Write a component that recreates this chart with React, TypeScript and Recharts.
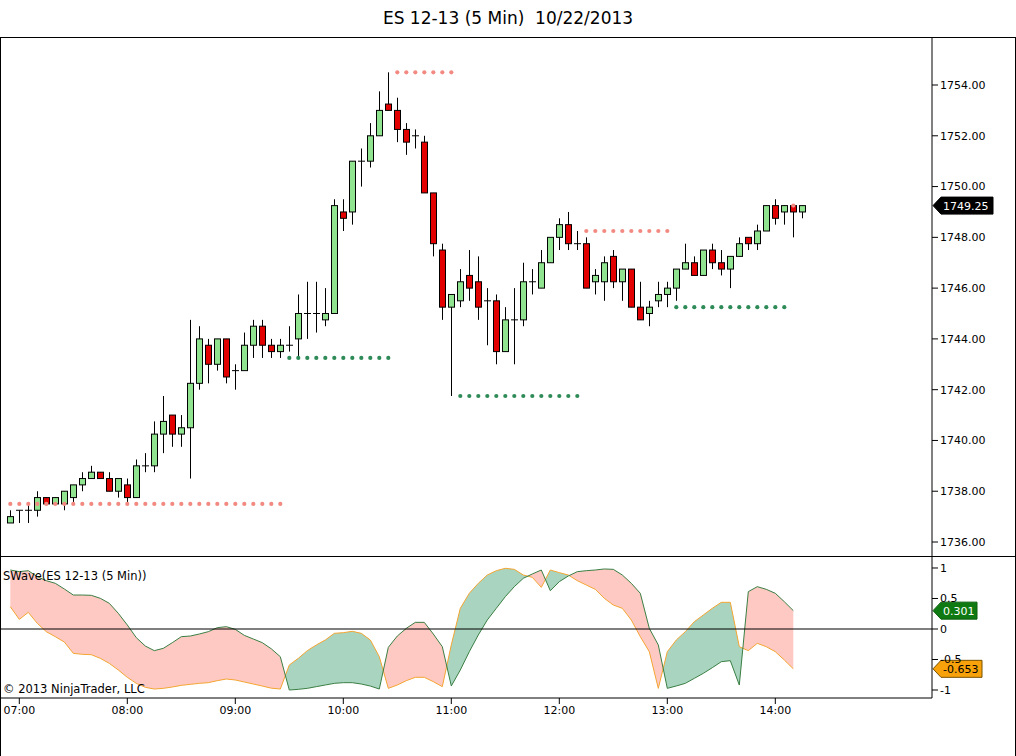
import React from 'react'
import { ComposedChart, Bar, Line, Area, XAxis, YAxis, ReferenceLine } from 'recharts'

// 5 minute bars, first bar closes 06:55
const START_MINUTE = 6 * 60 + 55
const opens = [
  1736.75, 1737.25, 1737.25, 1737.25, 1737.75, 1737.5, 1737.5, 1737.75, 1738.25, 1738.5,
  1738.75, 1738.5, 1738.0, 1738.25, 1737.75, 1739.0, 1739.0, 1740.25, 1741.0, 1740.25,
  1740.5, 1742.25, 1743.75, 1743.0, 1744.0, 1742.75, 1742.75, 1743.75, 1744.5, 1743.75,
  1743.5, 1743.75, 1744.0, 1745.0, 1745.0, 1744.75, 1745.0, 1749.0, 1749.0, 1751.0,
  1751.0, 1752.0, 1753.25, 1753.0, 1752.25, 1752.0, 1751.75, 1749.75, 1747.5, 1745.25,
  1745.5, 1746.5, 1746.25, 1745.5, 1745.5, 1743.5, 1744.75, 1744.75, 1746.25, 1746.0,
  1747.0, 1748.0, 1748.5, 1747.75, 1747.75, 1746.25, 1746.25, 1747.25, 1746.25, 1746.75,
  1745.25, 1745.0, 1745.5, 1745.75, 1746.0, 1746.75, 1747.0, 1746.5, 1747.5, 1747.0,
  1746.75, 1747.25, 1748.0, 1747.75, 1748.25, 1749.25, 1749.0, 1749.25, 1749.0,
]
const highs = [
  1737.25, 1737.25, 1737.5, 1738.0, 1737.75, 1737.75, 1738.0, 1738.25, 1738.75, 1739.0,
  1738.75, 1738.75, 1738.5, 1738.5, 1739.25, 1739.5, 1740.75, 1741.75, 1741.0, 1741.0,
  1744.75, 1744.5, 1744.0, 1744.0, 1744.0, 1743.0, 1744.25, 1744.75, 1744.75, 1744.0,
  1744.0, 1744.5, 1745.75, 1746.25, 1746.25, 1746.0, 1749.5, 1749.5, 1751.0, 1751.5,
  1752.5, 1753.75, 1754.5, 1753.5, 1752.5, 1752.25, 1752.0, 1749.75, 1747.75, 1745.75,
  1746.75, 1747.5, 1747.25, 1746.0, 1745.75, 1745.25, 1746.0, 1747.0, 1746.75, 1747.5,
  1748.0, 1748.75, 1749.0, 1748.25, 1748.0, 1746.75, 1747.25, 1747.5, 1746.75, 1746.75,
  1746.25, 1745.5, 1746.25, 1746.25, 1746.75, 1747.75, 1747.25, 1747.5, 1747.75, 1747.5,
  1747.25, 1748.0, 1748.0, 1748.5, 1749.25, 1749.5, 1749.25, 1749.25, 1749.25,
]
const lows = [
  1736.75, 1736.75, 1736.75, 1737.0, 1737.5, 1737.5, 1737.25, 1737.5, 1738.0, 1738.5,
  1738.5, 1738.0, 1737.75, 1737.5, 1737.75, 1738.75, 1738.75, 1739.5, 1739.75, 1739.75,
  1738.5, 1742.0, 1742.25, 1742.75, 1742.25, 1742.0, 1742.75, 1743.25, 1743.25, 1743.25,
  1743.25, 1743.5, 1743.25, 1744.0, 1744.25, 1744.5, 1745.0, 1748.25, 1748.5, 1750.0,
  1750.75, 1752.0, 1753.0, 1751.75, 1751.25, 1751.5, 1749.75, 1747.25, 1744.75, 1741.75,
  1745.25, 1745.5, 1744.75, 1743.75, 1743.0, 1743.5, 1743.0, 1744.5, 1745.75, 1746.0,
  1747.0, 1747.5, 1747.5, 1747.5, 1746.0, 1745.75, 1745.5, 1746.0, 1745.5, 1745.25,
  1744.75, 1744.5, 1745.25, 1745.25, 1745.5, 1746.75, 1746.5, 1746.5, 1746.75, 1746.5,
  1746.0, 1747.25, 1747.5, 1747.5, 1748.25, 1748.5, 1748.5, 1748.0, 1748.75,
]
const closes = [
  1737.0, 1737.25, 1737.25, 1737.75, 1737.5, 1737.75, 1738.0, 1738.25, 1738.5, 1738.75,
  1738.5, 1738.0, 1738.5, 1737.75, 1739.0, 1739.0, 1740.25, 1740.75, 1740.25, 1740.5,
  1742.25, 1744.0, 1743.0, 1744.0, 1742.5, 1742.75, 1743.75, 1744.5, 1743.75, 1743.5,
  1743.75, 1743.75, 1745.0, 1745.0, 1745.0, 1745.0, 1749.25, 1748.75, 1751.0, 1751.0,
  1752.0, 1753.0, 1753.0, 1752.25, 1751.75, 1752.0, 1749.75, 1747.75, 1745.25, 1745.75,
  1746.25, 1746.0, 1745.25, 1745.5, 1743.5, 1744.75, 1744.75, 1746.25, 1746.25, 1747.0,
  1748.0, 1748.5, 1747.75, 1747.75, 1746.0, 1746.5, 1747.0, 1746.25, 1746.75, 1745.25,
  1744.75, 1745.25, 1745.75, 1746.0, 1746.75, 1747.0, 1746.5, 1747.5, 1747.0, 1746.75,
  1747.25, 1747.75, 1747.75, 1748.25, 1749.25, 1748.75, 1749.25, 1749.0, 1749.25,
]

// swing levels drawn as dotted runs (bar index ranges)
const resistanceLevels = [
  { from: 0, to: 30, price: 1737.5 },
  { from: 43, to: 49, price: 1754.5 },
  { from: 64, to: 73, price: 1748.25 },
  { from: 87, to: 87, price: 1749.25 },
]
const supportLevels = [
  { from: 31, to: 42, price: 1743.25 },
  { from: 50, to: 63, price: 1741.75 },
  { from: 74, to: 86, price: 1745.25 },
]

// SWave indicator (last bar not plotted)
const waveGreen = [
  0.967, 0.94, 0.956, 0.858, 0.792, 0.749, 0.656, 0.557, 0.557, 0.552,
  0.503, 0.421, 0.257, 0.066, -0.142, -0.279, -0.355, -0.317, -0.224, -0.126,
  -0.115, -0.082, -0.044, 0.022, 0.038, -0.006, -0.104, -0.164, -0.224, -0.325,
  -0.454, -1.0, -0.989, -0.973, -0.945, -0.918, -0.891, -0.88, -0.88, -0.902,
  -0.935, -0.984, -0.301, -0.115, 0.011, 0.109, 0.109, -0.082, -0.29, -0.934,
  -0.672, -0.372, -0.098, 0.148, 0.339, 0.53, 0.694, 0.831, 0.902, 0.967,
  0.628, 0.776, 0.869, 0.94, 0.956, 0.967, 0.984, 0.978, 0.885, 0.749,
  0.585, 0.011, -0.262, -0.973, -0.934, -0.891, -0.809, -0.727, -0.634, -0.536,
  -0.519, -0.918, 0.612, 0.694, 0.65, 0.585, 0.448, 0.301, null,
]
const waveOrange = [
  0.366, 0.158, 0.273, 0.093, -0.044, -0.126, -0.213, -0.399, -0.415, -0.421,
  -0.481, -0.563, -0.672, -0.792, -0.891, -0.956, -0.984, -0.973, -0.951, -0.924,
  -0.907, -0.891, -0.88, -0.847, -0.82, -0.836, -0.869, -0.902, -0.935, -0.97,
  -0.984, -0.59, -0.481, -0.355, -0.262, -0.18, -0.071, -0.06, -0.038, -0.071,
  -0.18, -0.454, -0.973, -0.918, -0.847, -0.792, -0.792, -0.863, -0.945, -0.26,
  0.339, 0.585, 0.749, 0.885, 0.956, 0.995, 0.978, 0.885, 0.847, 0.683,
  0.967, 0.924, 0.885, 0.792, 0.721, 0.65, 0.503, 0.393, 0.339, 0.148,
  -0.126, -0.372, -0.973, -0.372, -0.18, -0.044, 0.12, 0.229, 0.339, 0.437,
  0.437, -0.29, -0.355, -0.235, -0.29, -0.372, -0.508, -0.653, null,
]

const priceTicks = [1736, 1738, 1740, 1742, 1744, 1746, 1748, 1750, 1752, 1754]
const waveTicks = [-1, -0.5, 0, 0.5, 1]

const FONT = '"DejaVu Sans", Verdana, sans-serif'
const UP = '#90e490'
const DOWN = '#e20000'
const PINK = '#fec9c3'
const TEAL = '#a9d4bf'

const times = opens.map((_, i) => {
  const m = START_MINUTE + i * 5
  return `${String(Math.floor(m / 60)).padStart(2, '0')}:${String(m % 60).padStart(2, '0')}`
})
const hourTicks = times.map((t, i) => (t.endsWith(':00') ? i : -1)).filter((i) => i >= 0)

function levelAt(levels: { from: number; to: number; price: number }[], i: number) {
  const l = levels.find((lv) => i >= lv.from && i <= lv.to)
  return l ? l.price : null
}

const mainData = opens.map((o, i) => ({
  i,
  open: o,
  high: highs[i],
  low: lows[i],
  close: closes[i],
  range: [lows[i], highs[i]],
  res: levelAt(resistanceLevels, i),
  sup: levelAt(supportLevels, i),
}))

const waveData = waveGreen.map((g, i) => ({
  i,
  green: g,
  orange: waveOrange[i],
  band: g == null || waveOrange[i] == null ? null : [waveOrange[i], g],
}))

// where the two wave lines cross -> colour of the band between them
const lastWave = waveGreen.filter((v) => v != null).length - 1
const bandStops: { offset: number; color: string }[] = []
{
  const d = (i: number) => (waveGreen[i] as number) - (waveOrange[i] as number)
  let start = 0
  for (let i = 0; i < lastWave; i++) {
    if (d(i) > 0 !== d(i + 1) > 0) {
      const c = i + d(i) / (d(i) - d(i + 1))
      const color = d(i) > 0 ? PINK : TEAL
      bandStops.push({ offset: start / lastWave, color }, { offset: c / lastWave, color })
      start = c
    }
  }
  const color = d(lastWave) > 0 ? PINK : TEAL
  bandStops.push({ offset: start / lastWave, color }, { offset: 1, color })
}

// layout (page pixels)
const W = 1016
const H = 756
const FRAME_TOP = 37
const SPLIT = 556
const AXIS_W = 84
const X_DOMAIN: [number, number] = [-1.033, 102.41]
const PRICE_DOMAIN: [number, number] = [1735.449, 1755.891]
const WAVE_DOMAIN: [number, number] = [-1.1311, 1.1967]

function Candle(props: any) {
  const { x, y, width, height, payload } = props
  if (x == null || y == null || !payload) return null
  const top = Math.min(y, y + height)
  const h = Math.abs(height)
  const span = payload.high - payload.low
  const k = span > 0 ? h / span : 0
  const py = (p: number) => top + (payload.high - p) * k
  const cx = Math.round(x + width / 2) + 0.5
  const yo = py(payload.open)
  const yc = py(payload.close)
  const bodyTop = Math.min(yo, yc)
  const bodyH = Math.abs(yo - yc)
  return (
    <g>
      <line x1={cx} x2={cx} y1={top} y2={top + h} stroke="#000" strokeWidth={1} />
      {bodyH < 0.5 ? (
        <line x1={cx - 3.5} x2={cx + 3.5} y1={yo} y2={yo} stroke="#000" strokeWidth={1} />
      ) : (
        <rect
          x={cx - 3}
          y={bodyTop}
          width={6}
          height={bodyH}
          fill={payload.close > payload.open ? UP : DOWN}
          stroke="#000"
          strokeWidth={1}
        />
      )}
    </g>
  )
}

function tag(text: string, bg: string, fg: string, border: string, w: number) {
  return (props: any) => {
    const vb = props.viewBox
    if (!vb) return null
    const x0 = vb.x + vb.width + 1
    const y = vb.y
    return (
      <g>
        <polygon
          points={`${x0},${y} ${x0 + 8},${y - 8.5} ${x0 + w},${y - 8.5} ${x0 + w},${y + 8.5} ${x0 + 8},${y + 8.5}`}
          fill={bg}
          stroke={border}
          strokeWidth={1}
        />
        <text x={x0 + 10} y={y} dy="0.36em" fill={fg} fontSize={11} fontFamily={FONT}>
          {text}
        </text>
      </g>
    )
  }
}

const axisTick = { fill: '#000', fontSize: 11, fontFamily: FONT }

export default function App() {
  const lastClose = closes[closes.length - 1]
  const lastGreen = waveGreen[lastWave] as number
  const lastOrange = waveOrange[lastWave] as number
  return (
    <div style={{ position: 'relative', width: W, height: H, background: '#fff', fontFamily: FONT, overflow: 'hidden' }}>
      <style>{'body{margin:0}'}</style>
      <div
        style={{
          position: 'absolute',
          top: 0,
          left: 0,
          width: W,
          height: FRAME_TOP,
          lineHeight: `${FRAME_TOP}px`,
          textAlign: 'center',
          fontSize: 17,
          whiteSpace: 'pre',
        }}
      >
        {'ES 12-13 (5 Min)  10/22/2013'}
      </div>
      <div
        style={{
          position: 'absolute',
          top: FRAME_TOP,
          left: 0,
          width: W,
          height: H - FRAME_TOP + 2,
          boxSizing: 'border-box',
          borderTop: '1px solid #000',
          borderLeft: '1px solid #000',
          borderRight: '1px solid #000',
        }}
      />
      <div style={{ position: 'absolute', top: SPLIT, left: 0, width: W, height: 1, background: '#000' }} />

      <div style={{ position: 'absolute', top: FRAME_TOP, left: 0 }}>
        <ComposedChart width={W} height={SPLIT - FRAME_TOP} data={mainData} margin={{ top: 0, right: 0, bottom: 0, left: 1 }}>
          <XAxis dataKey="i" type="number" domain={X_DOMAIN} allowDataOverflow hide />
          <YAxis
            orientation="right"
            width={AXIS_W}
            domain={PRICE_DOMAIN}
            allowDataOverflow
            ticks={priceTicks}
            interval={0}
            tickFormatter={(v: number) => v.toFixed(2)}
            axisLine={{ stroke: '#000' }}
            tickLine={{ stroke: '#000' }}
            tickSize={6}
            tick={axisTick}
          />
          <Bar dataKey="range" barSize={7} shape={Candle} isAnimationActive={false} />
          <Line dataKey="res" stroke="none" dot={{ r: 2.1, fill: '#f28a82', stroke: 'none' }} activeDot={false} isAnimationActive={false} />
          <Line dataKey="sup" stroke="none" dot={{ r: 2.1, fill: '#2e8b57', stroke: 'none' }} activeDot={false} isAnimationActive={false} />
          <ReferenceLine y={lastClose} stroke="none" label={tag(lastClose.toFixed(2), '#000', '#fff', '#000', 60)} />
        </ComposedChart>
      </div>

      <div style={{ position: 'absolute', top: SPLIT, left: 0 }}>
        <ComposedChart width={W} height={H - SPLIT} data={waveData} margin={{ top: 0, right: 0, bottom: 0, left: 1 }}>
          <defs>
            <linearGradient id="swaveBand" x1="0" y1="0" x2="1" y2="0">
              {bandStops.map((s, k) => (
                <stop key={k} offset={s.offset} stopColor={s.color} />
              ))}
            </linearGradient>
          </defs>
          <XAxis
            dataKey="i"
            type="number"
            domain={X_DOMAIN}
            allowDataOverflow
            ticks={hourTicks}
            interval={0}
            tickFormatter={(i: number) => times[i]}
            height={H - 698}
            axisLine={{ stroke: '#000' }}
            tickLine={{ stroke: '#000' }}
            tickSize={6}
            tick={axisTick}
          />
          <YAxis
            orientation="right"
            width={AXIS_W}
            domain={WAVE_DOMAIN}
            allowDataOverflow
            ticks={waveTicks}
            interval={0}
            tickFormatter={(v: number) => String(v)}
            axisLine={{ stroke: '#000' }}
            tickLine={{ stroke: '#000' }}
            tickSize={6}
            tick={axisTick}
          />
          <Area dataKey="band" type="linear" stroke="none" fill="url(#swaveBand)" fillOpacity={1} isAnimationActive={false} />
          <Line dataKey="orange" type="linear" stroke="#f4a532" strokeWidth={1} dot={false} activeDot={false} isAnimationActive={false} />
          <Line dataKey="green" type="linear" stroke="#3a7f44" strokeWidth={1} dot={false} activeDot={false} isAnimationActive={false} />
          <ReferenceLine y={0} stroke="#000" strokeWidth={1} />
          <ReferenceLine y={lastGreen} stroke="none" label={tag(lastGreen.toFixed(3), '#0f7a12', '#fff', '#0b5e0d', 44)} />
          <ReferenceLine y={lastOrange} stroke="none" label={tag(lastOrange.toFixed(3), '#f7a20a', '#000', '#7a5200', 49)} />
        </ComposedChart>
      </div>

      <div style={{ position: 'absolute', left: 3, top: 569, fontSize: 11.5, lineHeight: '14px' }}>SWave(ES 12-13 (5 Min))</div>
      <div style={{ position: 'absolute', left: 3, top: 682, fontSize: 11.5, lineHeight: '14px' }}>© 2013 NinjaTrader, LLC</div>
    </div>
  )
}
